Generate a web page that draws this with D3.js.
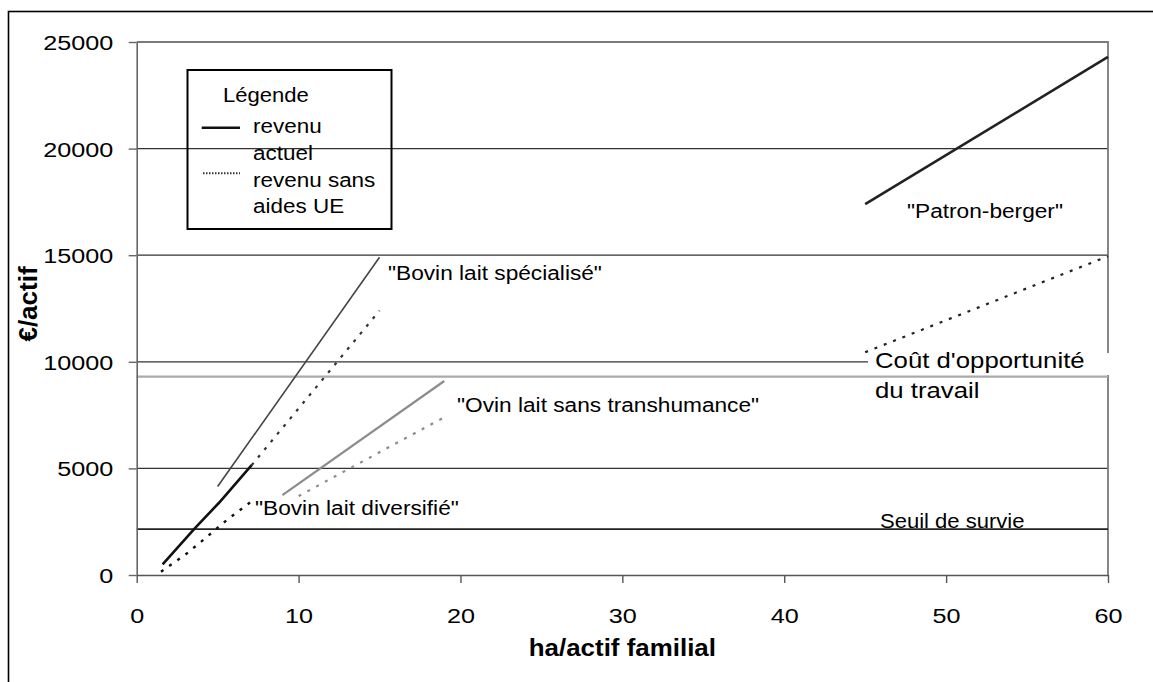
<!DOCTYPE html>
<html>
<head>
<meta charset="utf-8">
<script src="https://cdn.jsdelivr.net/npm/d3@7"></script>
<style>
  body { margin: 0; background: #fff; }
  svg { display: block; }
  text { font-family: "Liberation Sans", Arial, sans-serif; fill: #000; }
</style>
</head>
<body>
<svg id="chart"></svg>
<script>
// values (x = ha/actif familial, y = €/actif)
const xTicks = [0, 10, 20, 30, 40, 50, 60]
const yTicks = [0, 5000, 10000, 15000, 20000, 25000]
const seuilSurvie = 2150
const coutOpportunite = 9300

const bovinDiversifieActuel = [[1.6, 500], [3.6, 2200], [5.1, 3400], [7.1, 5150]]
const bovinDiversifieSansAides = [[1.5, 150], [3, 950], [4.2, 1700], [5.6, 2600], [7, 3400]]
const bovinSpecialiseActuel = [[5, 4150], [15, 14900]]
const bovinSpecialiseSansAides = [[7.1, 5150], [15, 12400]]
const ovinActuel = [[9, 3750], [19, 9100]]
const ovinSansAides = [[10, 3700], [19, 7400]]
const patronActuel = [[45, 17400], [60, 24300]]
const patronSansAides = [[45, 10450], [60, 14950]]

const width = 1153
const height = 682

let svg = d3.select("#chart")
  .attr("width", width)
  .attr("height", height)

let x = d3.scaleLinear().domain([0, 60]).range([136.7, 1108])
let y = d3.scaleLinear().domain([0, 25000]).range([575, 42])

// outer frame (runs off the picture on the right and bottom)
svg.append("rect")
  .attr("x", 8.5).attr("y", 11.5)
  .attr("width", 1300).attr("height", 800)
  .attr("fill", "none").attr("stroke", "#000").attr("stroke-width", 1.6)

// horizontal gridlines
svg.append("g").selectAll("line")
  .data(yTicks.filter(d => d > 0 && d < 25000))
  .enter().append("line")
  .attr("x1", x(0)).attr("x2", x(60))
  .attr("y1", d => y(d)).attr("y2", d => y(d))
  .attr("stroke", "#333").attr("stroke-width", 1.3)

// plot frame top + right (grey)
svg.append("path")
  .attr("d", `M${x(0)},${y(25000)}H${x(60)}V${y(0)}`)
  .attr("fill", "none").attr("stroke", "#7a7a7a").attr("stroke-width", 1.8)

// reference levels
svg.append("line")
  .attr("x1", x(0)).attr("x2", x(60))
  .attr("y1", y(coutOpportunite)).attr("y2", y(coutOpportunite))
  .attr("stroke", "#aaa").attr("stroke-width", 2.2)

svg.append("line")
  .attr("x1", x(0)).attr("x2", x(60))
  .attr("y1", y(seuilSurvie)).attr("y2", y(seuilSurvie))
  .attr("stroke", "#222").attr("stroke-width", 1.6)

// series
let series = [
  { data: bovinSpecialiseActuel, color: "#444", w: 1.6, dash: null },
  { data: bovinSpecialiseSansAides, color: "#333", w: 2.2, dash: "3,7" },
  { data: bovinDiversifieActuel, color: "#111", w: 2.6, dash: null },
  { data: bovinDiversifieSansAides, color: "#111", w: 2.4, dash: "3,7" },
  { data: ovinActuel, color: "#8c8c8c", w: 2.2, dash: null },
  { data: ovinSansAides, color: "#8c8c8c", w: 2.2, dash: "3,7" },
  { data: patronActuel, color: "#222", w: 2.6, dash: null },
  { data: patronSansAides, color: "#222", w: 2.2, dash: "3,7" }
]

let line = d3.line().x(d => x(d[0])).y(d => y(d[1]))

svg.append("g").selectAll("path")
  .data(series)
  .enter().append("path")
  .attr("d", d => line(d.data))
  .attr("fill", "none")
  .attr("stroke", d => d.color)
  .attr("stroke-width", d => d.w)
  .attr("stroke-dasharray", d => d.dash)

// axes
let yAxis = svg.append("g")
  .attr("transform", `translate(${x(0)},0)`)
  .call(d3.axisLeft(y).tickValues(yTicks).tickSize(8).tickSizeOuter(0).tickFormat(d3.format("d")))
yAxis.select(".domain").attr("stroke", "#666").attr("stroke-width", 1.6)
yAxis.selectAll(".tick line").attr("stroke", "#666").attr("stroke-width", 1.4)
yAxis.selectAll(".tick text")
  .attr("x", null).attr("dy", "0.36em")
  .attr("transform", "translate(-23.5,0) scale(1.2,1)")
  .style("font-size", "21px").attr("font-family", null).attr("fill", "#000")

let xAxis = svg.append("g")
  .attr("transform", `translate(0,${y(0)})`)
  .call(d3.axisBottom(x).tickValues(xTicks).tickSize(8).tickSizeOuter(0))
xAxis.select(".domain").attr("stroke", "#555").attr("stroke-width", 1.6)
xAxis.selectAll(".tick line").attr("stroke", "#555").attr("stroke-width", 1.4)
xAxis.selectAll(".tick text")
  .attr("y", 48).attr("dy", 0)
  .attr("transform", "scale(1.2,1)")
  .style("font-size", "21px").attr("font-family", null).attr("fill", "#000")

// axis titles
svg.append("text")
  .attr("transform", "translate(37,304) rotate(-90)")
  .attr("text-anchor", "middle")
  .style("font-size", "26px").style("font-weight", "bold")
  .text("€/actif")

svg.append("text")
  .attr("transform", `translate(${(x(0) + x(60)) / 2},656) scale(1.08,1)`)
  .attr("text-anchor", "middle")
  .style("font-size", "24px").style("font-weight", "bold")
  .text("ha/actif familial")

// text helper, the picture's lettering is a bit wider than the font
function label(px, py, str, size, sx) {
  svg.append("text")
    .attr("transform", `translate(${px},${py}) scale(${sx},1)`)
    .style("font-size", size + "px")
    .text(str)
}

// white box behind "Coût d'opportunité"
svg.append("rect")
  .attr("x", 868).attr("y", 353)
  .attr("width", 260).attr("height", 22)
  .attr("fill", "#fff")

label(388, 280, '"Bovin lait spécialisé"', 21, 1.08)
label(457, 412, '"Ovin lait sans transhumance"', 21, 1.08)
label(255, 515, '"Bovin lait diversifié"', 21, 1.08)
label(907, 218, '"Patron-berger"', 21, 1.08)
label(880, 528, "Seuil de survie", 21, 1.05)
label(875, 368, "Coût d'opportunité", 23, 1.12)
label(875, 398, "du travail", 23, 1.12)

// legend
let legend = svg.append("g")
legend.append("rect")
  .attr("x", 187.5).attr("y", 70)
  .attr("width", 204).attr("height", 159)
  .attr("fill", "none").attr("stroke", "#000").attr("stroke-width", 2)
legend.append("line")
  .attr("x1", 201.7).attr("x2", 240).attr("y1", 127.7).attr("y2", 127.7)
  .attr("stroke", "#111").attr("stroke-width", 2.6)
legend.append("line")
  .attr("x1", 203).attr("x2", 240).attr("y1", 173.3).attr("y2", 173.3)
  .attr("stroke", "#333").attr("stroke-width", 2).attr("stroke-dasharray", "1.5,1.5")

label(223, 102, "Légende", 21, 1.05)
label(253, 133, "revenu", 21, 1.07)
label(253, 159.5, "actuel", 21, 1.07)
label(253, 186.5, "revenu sans", 21, 1.07)
label(253, 212.5, "aides UE", 21, 1.07)
</script>
</body>
</html>
